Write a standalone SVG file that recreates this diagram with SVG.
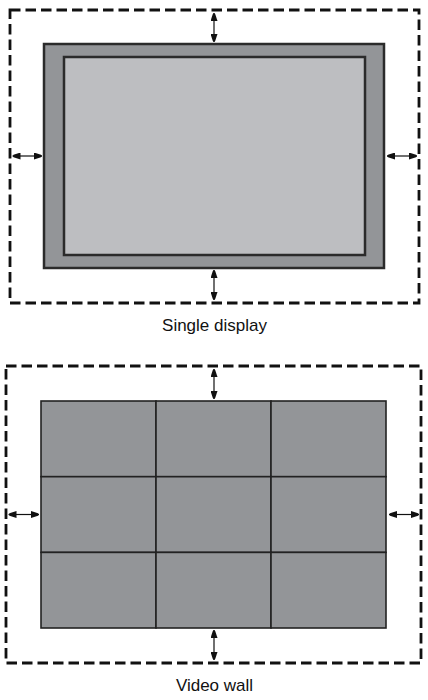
<svg xmlns="http://www.w3.org/2000/svg" width="428" height="700" viewBox="0 0 428 700">
<style>
.dash{fill:none;stroke:#111;stroke-width:2.8;stroke-dasharray:10.5 5}
.frame{fill:#939598;stroke:#2b2b2b;stroke-width:2.5}
.screen{fill:#bdbec1;stroke:#2b2b2b;stroke-width:2.5}
.tile{fill:#939598;stroke:#222;stroke-width:1.6}
.dim{stroke:#111;stroke-width:1.2;fill:none;marker-start:url(#ah);marker-end:url(#ah)}
.lbl{font-family:"Liberation Sans",Arial,sans-serif;font-size:17px;fill:#111;text-anchor:middle}
</style>
<defs>
<marker id="ah" viewBox="0 0 8 7" refX="8" refY="3.5" markerWidth="8" markerHeight="7" markerUnits="userSpaceOnUse" orient="auto-start-reverse">
<path d="M0,0 L7,2.3 L8,3.5 L7,4.7 L0,7 z" fill="#111"/>
</marker>
</defs>
<g id="single-display">
<rect class="dash" x="10" y="10" width="409" height="293"/>
<rect class="frame" x="44" y="44" width="340" height="224"/>
<rect class="screen" x="64" y="57" width="301" height="198"/>
<text class="lbl" x="214.5" y="331">Single display</text>
</g>
<g id="video-wall">
<rect class="dash" x="6" y="366" width="415" height="297"/>
<rect class="tile" x="41" y="401" width="115" height="75.7"/>
<rect class="tile" x="156" y="401" width="115" height="75.7"/>
<rect class="tile" x="271" y="401" width="115" height="75.7"/>
<rect class="tile" x="41" y="476.7" width="115" height="75.7"/>
<rect class="tile" x="156" y="476.7" width="115" height="75.7"/>
<rect class="tile" x="271" y="476.7" width="115" height="75.7"/>
<rect class="tile" x="41" y="552.4" width="115" height="75.6"/>
<rect class="tile" x="156" y="552.4" width="115" height="75.6"/>
<rect class="tile" x="271" y="552.4" width="115" height="75.6"/>
<text class="lbl" x="214.5" y="691">Video wall</text>
</g>
<g id="connectors">
<line class="dim" x1="214" y1="13" x2="214" y2="42"/>
<line class="dim" x1="214" y1="270" x2="214" y2="300"/>
<line class="dim" x1="12.5" y1="156" x2="42" y2="156"/>
<line class="dim" x1="387" y1="156" x2="417" y2="156"/>
<line class="dim" x1="214" y1="369" x2="214" y2="399"/>
<line class="dim" x1="214" y1="630" x2="214" y2="660"/>
<line class="dim" x1="8.5" y1="514.5" x2="39" y2="514.5"/>
<line class="dim" x1="389" y1="514.5" x2="419" y2="514.5"/>
</g>
</svg>
